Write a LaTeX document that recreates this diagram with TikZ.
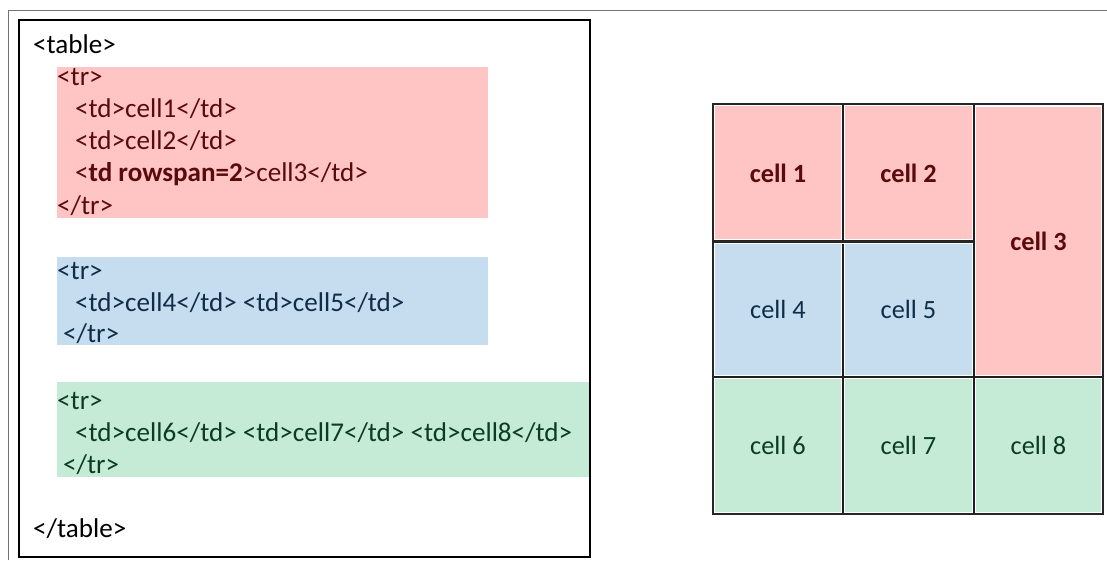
\documentclass[tikz,border=0pt]{standalone}
\usepackage{fontspec}
\setmainfont{Carlito}
\usetikzlibrary{positioning}
\definecolor{rowred}{HTML}{FFC4C4}
\definecolor{rowblue}{HTML}{C5DDEF}
\definecolor{rowgreen}{HTML}{C5EBD7}
\definecolor{txtred}{HTML}{5A0A0A}
\definecolor{txtblue}{HTML}{0F2D48}
\definecolor{txtgreen}{HTML}{0B3B22}
\tikzset{
  code/.style={anchor=base west, inner sep=0pt, font=\fontsize{27.1}{32}\selectfont},
  celltext/.style={inner sep=0pt, font=\fontsize{26.3}{31}\selectfont},
  grid/.style={line width=1.6pt, color=black!88}
}

\begin{document}
\begin{tikzpicture}[x=1pt,y=-1pt]
		%%%%% START %%%%%
		\useasboundingbox (0,0) rectangle (1107,560);
		
		% frame round everything
		\draw[line width=1.6pt, color=black!55] (8.5,560) -- (8.5,10.5) -- (1107,10.5);
		
		% the html source
		\draw[line width=1.3pt] (19,20) rectangle (590,557);
		\fill[rowred] (57,67) rectangle (488,218);
		\fill[rowblue] (57,257) rectangle (488,345);
		\fill[rowgreen] (57,382) rectangle (590,477);
		\draw[line width=1.3pt] (590,20) -- (590,557);
		
		\node[code] (tblopen) at (33,53) {<table>};
		\node[code, color=txtred] (tr1) at (57,85) {<tr>};
		\node[code, color=txtred] (td1) at (75,117) {<td>cell1</td>};
		\node[code, color=txtred] (td2) at (75,149) {<td>cell2</td>};
		\node[code, color=txtred] (td3) at (75,181) {<\textbf{td rowspan=2}>cell3</td>};
		\node[code, color=txtred] (tr1end) at (57,214) {</tr>};
		
		\node[code, color=txtblue] (tr2) at (57,279) {<tr>};
		\node[code, color=txtblue] (td45) at (75,311) {<td>cell4</td> <td>cell5</td>};
		\node[code, color=txtblue] (tr2end) at (63,342) {</tr>};
		
		\node[code, color=txtgreen] (tr3) at (57,409) {<tr>};
		\node[code, color=txtgreen] (td678) at (75,441) {<td>cell6</td> <td>cell7</td> <td>cell8</td>};
		\node[code, color=txtgreen] (tr3end) at (63,473) {</tr>};
		
		\node[code] (tblclose) at (33,537) {</table>};
		
		% the rendered table
		\fill[rowred] (715,106) rectangle (841,239);
		\fill[rowred] (845,106) rectangle (972,239);
		\fill[rowred] (976,107) rectangle (1101,375);
		\fill[rowblue] (715,244) rectangle (841,375);
		\fill[rowblue] (845,244) rectangle (972,375);
		\fill[rowgreen] (715,379) rectangle (841,512);
		\fill[rowgreen] (845,379) rectangle (972,512);
		\fill[rowgreen] (976,379) rectangle (1101,512);
		
		\draw[grid] (843,104) -- (843,514);
		\draw[grid] (974,104) -- (974,514);
		\draw[grid] (713,377) -- (1103,377);
		\draw[line width=2.6pt, color=black!85] (713,241.5) -- (974,241.5);
		\draw[line width=0.8pt, color=white] (715,243.5) -- (972,243.5);
		\draw[line width=2pt, color=black!85] (713,104) rectangle (1103,514);
		
		\node[celltext, color=txtred, font=\fontsize{26.3}{31}\selectfont\bfseries] (c1) at (778,173) {cell 1};
		\node[celltext, color=txtred, font=\fontsize{26.3}{31}\selectfont\bfseries] (c2) at (908.5,173) {cell 2};
		\node[celltext, color=txtred, font=\fontsize{26.3}{31}\selectfont\bfseries] (c3) at (1038.5,241) {cell 3};
		\node[celltext, color=txtblue] (c4) at (778,309) {cell 4};
		\node[celltext, color=txtblue] (c5) at (908.5,309) {cell 5};
		\node[celltext, color=txtgreen] (c6) at (778,445) {cell 6};
		\node[celltext, color=txtgreen] (c7) at (908.5,445) {cell 7};
		\node[celltext, color=txtgreen] (c8) at (1038.5,445) {cell 8};
		
		%%%%% END %%%%%
\end{tikzpicture}
\end{document}
